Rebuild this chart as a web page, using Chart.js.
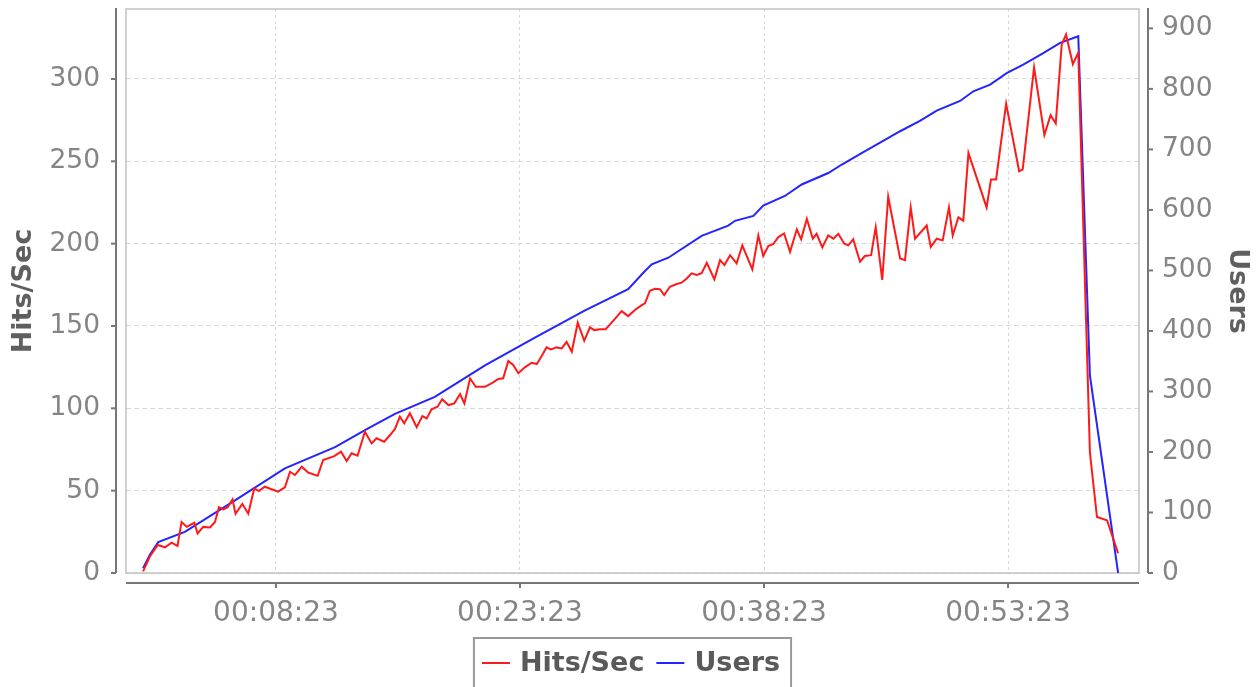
<!DOCTYPE html>
<html>
<head>
<meta charset="utf-8">
<title>Hits/Sec and Users</title>
<script src="https://cdn.jsdelivr.net/npm/chart.js@4/dist/chart.umd.min.js"></script>
<style>
html,body{margin:0;padding:0;background:#fff;}
#wrap{width:1259px;height:687px;position:relative;}
</style>
</head>
<body>
<div id="wrap"><canvas id="chart"></canvas></div>
<script>

// elapsed time in seconds for each Hits/Sec sample
let hitsTime = [13,38,67,94,118,140,155,174,202,214,
235,260,278,293,309,325,343,354,379,401,
423,440,462,511,536,555,573,598,622,657,
677,718,743,764,782,804,831,856,874,902,
924,942,960,976,997,1022,1043,1059,1077,1099,
1116,1139,1161,1182,1198,1219,1240,1274,1301,1323,
1341,1360,1378,1397,1421,1446,1465,1483,1501,1517,
1538,1557,1575,1594,1616,1640,1661,1677,1698,1719,
1741,1778,1802,1827,1852,1864,1882,1901,1919,1935,
1956,1981,1999,2018,2036,2055,2073,2092,2120,2141,
2157,2178,2202,2223,2260,2282,2300,2319,2337,2356,
2377,2399,2424,2440,2461,2483,2497,2518,2540,2559,
2577,2599,2614,2632,2657,2675,2698,2715,2739,2761,
2805,2823,2844,2860,2903,2918,2940,2962,2985,2999,
3020,3038,3057,3124,3140,3159,3196,3244,3257,3299,
3337,3360,3379,3401,3417,3442,3462,3505,3531,3568,
3609]

let hitsValues = [1,10,17,15.6,18.4,16.4,31,28,30.5,24,
28,27.7,31,40,38.7,40,44.7,36,42,36,
51.4,49.8,52.4,49.4,52,61.5,59.5,64.5,61,59,
68.6,71,73.7,68,72.7,71.2,85.8,78.7,81.8,79.7,
83.8,87.5,95,90.9,97,88.5,95.3,93.9,99.4,101,
105.5,102,103,108.7,103,118.2,113.1,113.1,115.5,117.8,
118.2,128.7,126.3,121.3,124.9,127.7,126.9,131.8,137,135.8,
137,136.4,140.4,134.4,152,141,149.2,147.5,148,148,
152,159,156,159.7,162.7,163.8,171.4,172.6,172.4,168.8,
173.8,175.5,176.3,178.9,182,181,182,188.4,178.3,190,
187,193,188,199,184.4,205,192.5,198.5,199.8,204,
206.2,195,208.7,202.6,215,203,206,197.8,205,203,
206,200,199,202.6,189,192.5,193,210,178,228.5,
191,190,222,203,211,198,203,202,222,205,
216,214,255,222,239,239,285,244,245,307,
266,278,273,321,327,309,316,73,34,32,
12]

// elapsed time in seconds for each Users sample
let usersTime = [13,38,69,167,352,536,721,843,942,1089,
1274,1458,1643,1802,1864,1889,1950,2073,2171,2196,
2264,2300,2380,2442,2540,2590,2663,2731,2805,2878,
2940,3026,3075,3137,3198,3259,3333,3395,3462,3505,
3609]

let usersValues = [8,30,51,68,120,173,208,239,263,291,
343,389,434,469,499,510,521,557,574,582,
590,607,623,642,661,675,694,711,730,747,
764,780,796,807,826,840,859,876,887,326,
0]

let timeTicks = [503,1403,2303,3203]
let hitsTicks = [0,50,100,150,200,250,300]
let usersTicks = [0,100,200,300,400,500,600,700,800,900]


function hms(sec){
let h = Math.floor(sec/3600)
let m = Math.floor((sec%3600)/60)
let s = Math.round(sec%60)
return [h,m,s].map(v=>String(v).padStart(2,"0")).join(":")
}

function line(ctx,x1,y1,x2,y2){
ctx.beginPath()
ctx.moveTo(x1,y1)
ctx.lineTo(x2,y2)
ctx.stroke()
}

// fixed scale sizes, no extra label padding round the plot
function fixSize(w,h){
return s=>{
if(w) s.width = w
if(h) s.height = h
s.paddingTop = 0
s.paddingBottom = 0
s.paddingLeft = 0
s.paddingRight = 0
}
}


// light frame round the plot, drawn under the lines
const plotFrame = {
id:"plotFrame",
beforeDatasetsDraw(chart){
let a = chart.chartArea
let ctx = chart.ctx
ctx.save()
ctx.strokeStyle = "#c2c2c2"
ctx.lineWidth = 1.5
ctx.strokeRect(a.left,a.top,a.right-a.left,a.bottom-a.top)
ctx.restore()
}
}

// axis lines set a little away from the plot, with short outer ticks
const offsetAxes = {
id:"offsetAxes",
afterDraw(chart){
let a = chart.chartArea
let ctx = chart.ctx
let yl = chart.scales.y
let yr = chart.scales.y2
let xs = chart.scales.x
ctx.save()
ctx.strokeStyle = "#777"
ctx.lineWidth = 2

let lx = a.left - 10
line(ctx,lx,a.top-1,lx,a.bottom)
yl.ticks.forEach(t=>{
let py = yl.getPixelForValue(t.value)
line(ctx,lx-5,py,lx,py)
})

let rx = a.right + 9
line(ctx,rx,a.top-1,rx,a.bottom)
yr.ticks.forEach(t=>{
let py = yr.getPixelForValue(t.value)
line(ctx,rx,py,rx+5,py)
})

let by = a.bottom + 10
line(ctx,a.left,by,a.right,by)
xs.ticks.forEach(t=>{
let px = xs.getPixelForValue(t.value)
line(ctx,px,by,px,by+5)
})

ctx.restore()
}
}

// legend in a grey box under the axis
const boxLegend = {
id:"boxLegend",
afterDraw(chart){
let a = chart.chartArea
let ctx = chart.ctx
ctx.save()
ctx.font = "bold 27px 'DejaVu Sans'"
let items = chart.data.datasets.map(ds=>({
label:ds.label,
color:ds.borderColor,
w:ctx.measureText(ds.label).width
}))
let lineLen = 28, gapText = 10, gapItem = 12, padL = 8, padR = 11
let total = padL + padR + gapItem*(items.length-1)
items.forEach(it=>{ total += lineLen + gapText + it.w })
let left = (a.left + a.right)/2 - total/2
let top = a.bottom + 65
let cy = top + 26

ctx.strokeStyle = "#999"
ctx.lineWidth = 2
ctx.strokeRect(left,top,total,70)

let x = left + padL
items.forEach(it=>{
ctx.strokeStyle = it.color
ctx.lineWidth = 2
line(ctx,x,cy-1,x+lineLen,cy-1)
x += lineLen + gapText
ctx.fillStyle = "#5a5a5a"
ctx.textBaseline = "middle"
ctx.fillText(it.label,x,cy)
x += it.w + gapItem
})
ctx.restore()
}
}


Chart.defaults.font.family = "'DejaVu Sans'"

new Chart(document.getElementById("chart"),{

type:"line",

data:{
datasets:[
{
label:"Hits/Sec",
data:hitsTime.map((t,i)=>({x:t,y:hitsValues[i]})),
borderColor:"#ff1a1a",
borderWidth:2,
pointRadius:0,
tension:0,
yAxisID:"y"
},
{
label:"Users",
data:usersTime.map((t,i)=>({x:t,y:usersValues[i]})),
borderColor:"#2424ff",
borderWidth:2,
pointRadius:0,
tension:0,
yAxisID:"y2"
}
]
},

options:{
responsive:true,
maintainAspectRatio:false,
devicePixelRatio:1,
animation:false,
layout:{padding:{top:9,left:0,right:0,bottom:0}},
plugins:{
legend:{display:false},
tooltip:{enabled:false}
},
scales:{
x:{
type:"linear",
min:-50,
max:3686,
afterBuildTicks:s=>{ s.ticks = timeTicks.map(v=>({value:v})) },
afterFit:fixSize(0,114),
ticks:{
callback:v=>hms(v),
color:"#858585",
font:{size:28},
padding:24,
maxRotation:0,
autoSkip:false
},
grid:{color:"#d9d9d9",lineWidth:1,drawTicks:false},
border:{display:false,dash:[3,3]}
},
y:{
position:"left",
min:0,
max:342.5,
afterBuildTicks:s=>{ s.ticks = hitsTicks.map(v=>({value:v})) },
afterFit:fixSize(126,0),
ticks:{color:"#858585",font:{size:26.5},padding:26},
grid:{color:"#d9d9d9",lineWidth:1,drawTicks:false},
border:{display:false,dash:[5,3]},
title:{
display:true,
text:"Hits/Sec",
color:"#5f5f5f",
font:{size:27,weight:"bold"},
padding:{top:8,bottom:0}
}
},
y2:{
position:"right",
min:0,
max:932,
afterBuildTicks:s=>{ s.ticks = usersTicks.map(v=>({value:v})) },
afterFit:fixSize(120,0),
ticks:{color:"#858585",font:{size:26.5},padding:23},
grid:{display:false,drawTicks:false},
border:{display:false},
title:{
display:true,
text:"Users",
color:"#5f5f5f",
font:{size:27,weight:"bold"},
padding:{top:6,bottom:0}
}
}
}
},

plugins:[plotFrame,offsetAxes,boxLegend]

})

</script>
</body>
</html>
